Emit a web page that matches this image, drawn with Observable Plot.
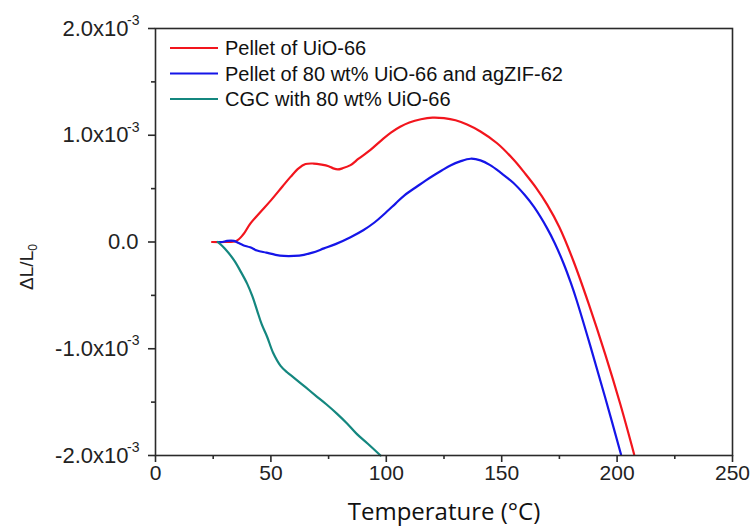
<!DOCTYPE html>
<html><head><meta charset="utf-8">
<script src="https://cdn.jsdelivr.net/npm/d3@7"></script>
<script src="https://cdn.jsdelivr.net/npm/@observablehq/plot@0.6"></script>
<style>body{margin:0;background:#fff}</style>
</head><body><div id="chart"></div>
<script>
// Series (values of ΔL/L0 in units of 10^-3)
const seriesNames = ["Pellet of UiO-66", "Pellet of 80 wt% UiO-66 and agZIF-62", "CGC with 80 wt% UiO-66"];
const seriesColors = ["#f2151d", "#1515e8", "#14877f"];

const redT = [24.5, 30, 35, 38, 41, 45, 50, 55, 58.5, 62, 65, 68.5, 72, 75, 77, 79, 81, 84.5, 88, 93, 98, 102, 106, 110, 115, 120, 125, 130, 135, 140.8, 148, 155.2, 160, 165, 169.7, 175, 181.2, 187.7, 194.9, 201.4, 207.4];
const redV = [0, 0, 0.01, 0.07, 0.17, 0.27, 0.39, 0.52, 0.61, 0.69, 0.73, 0.735, 0.725, 0.71, 0.69, 0.68, 0.69, 0.72, 0.78, 0.86, 0.955, 1.025, 1.08, 1.12, 1.15, 1.165, 1.16, 1.14, 1.10, 1.035, 0.925, 0.77, 0.645, 0.505, 0.35, 0.138, -0.185, -0.58, -1.055, -1.52, -1.99];

const blueT = [27, 29, 31, 34, 36, 38, 41, 44, 48, 52, 55.6, 60, 64.3, 68, 73, 78, 84.5, 90, 95, 99, 104, 108, 113, 117, 120.6, 124, 128, 132, 136.5, 140.8, 145, 149.5, 155, 160, 164, 169.7, 173, 176.9, 180, 182.5, 188.3, 194.8, 201.7];
const blueV = [0, 0, 0.01, 0.01, -0.01, -0.03, -0.05, -0.08, -0.10, -0.12, -0.13, -0.13, -0.12, -0.10, -0.06, -0.02, 0.045, 0.11, 0.185, 0.26, 0.36, 0.44, 0.515, 0.575, 0.625, 0.67, 0.72, 0.755, 0.78, 0.765, 0.72, 0.65, 0.555, 0.44, 0.328, 0.128, -0.011, -0.206, -0.386, -0.548, -0.966, -1.454, -1.99];

const tealT = [27, 30, 34, 37, 39.7, 42, 44, 46, 48.4, 51, 54.2, 57, 59.9, 65, 70, 74, 78.7, 83, 87.3, 92, 97.5];
const tealV = [0, -0.06, -0.17, -0.28, -0.39, -0.51, -0.64, -0.77, -0.89, -1.04, -1.16, -1.22, -1.27, -1.36, -1.45, -1.52, -1.61, -1.70, -1.80, -1.89, -2.0];

// Axis ticks and labels
const xMajor = [0, 50, 100, 150, 200, 250];
const xMinor = [25, 75, 125, 175, 225];
const yMajor = [-2, -1, 0, 1, 2];
const yMinor = [-1.5, -0.5, 0.5, 1.5];
const yMantissa = ["-2.0x10", "-1.0x10", "0.0", "1.0x10", "2.0x10"];
const yExponent = ["-3", "-3", "", "-3", "-3"];
const xTitle = "Temperature (°C)";
const yTitleMain = "ΔL/L";
const yTitleSub = "0";

const series = [[redT, redV], [blueT, blueV], [tealT, tealV]];
const data = series.flatMap(([ts, vs], i) => ts.map((t, j) => ({series: seriesNames[i], T: t, v: vs[j]})));
const yLabels = yMajor.map((y, i) => ({y, m: yMantissa[i], e: yExponent[i]}));

const sansFont = "'Liberation Sans', Arial, sans-serif";

const chart = Plot.plot({
  width: 753,
  height: 526,
  marginLeft: 155,
  marginRight: 21,
  marginTop: 28,
  marginBottom: 71,
  x: {domain: [0, 250], axis: null},
  y: {domain: [-2, 2], axis: null},
  color: {domain: seriesNames, range: seriesColors},
  style: {fontFamily: sansFont, background: "#fff", color: "#222"},
  marks: [
    Plot.line(data, {x: "T", y: "v", z: "series", stroke: "series", strokeWidth: 2.2, curve: "catmull-rom"}),
    Plot.frame({stroke: "#2a2a2a", strokeWidth: 1.6}),
    Plot.axisX({ticks: xMajor, tickSize: 7, tickPadding: 3, tickFormat: d => String(d), fontSize: 21, label: null, stroke: "#2a2a2a", strokeWidth: 1.6}),
    Plot.axisX({ticks: xMinor, tickSize: 4, tickFormat: () => "", label: null, stroke: "#2a2a2a", strokeWidth: 1.6}),
    Plot.axisY({ticks: yMajor, tickSize: 7, tickFormat: () => "", label: null, stroke: "#2a2a2a", strokeWidth: 1.6}),
    Plot.axisY({ticks: yMinor, tickSize: 4, tickFormat: () => "", label: null, stroke: "#2a2a2a", strokeWidth: 1.6}),
    Plot.text(yLabels.filter(d => d.e), {y: "y", text: "m", frameAnchor: "left", textAnchor: "end", dx: -27, fontSize: 22, fill: "#222"}),
    Plot.text(yLabels.filter(d => d.e), {y: "y", text: "e", frameAnchor: "left", textAnchor: "end", dx: -16, dy: -8, fontSize: 14, fill: "#222"}),
    Plot.text(yLabels.filter(d => !d.e), {y: "y", text: "m", frameAnchor: "left", textAnchor: "end", dx: -17, fontSize: 22, fill: "#222"}),
    Plot.text([xTitle], {frameAnchor: "bottom", dy: 64, fontSize: 24, letterSpacing: "0.7px", fontFamily: "'Open Sans', Lato, sans-serif", fill: "#111"})
  ]
});

const svg = d3.select(chart);

// Y-axis title with subscript
const yt = svg.append("text")
  .attr("transform", "translate(33,267) rotate(-90)")
  .attr("text-anchor", "middle")
  .attr("font-family", sansFont)
  .attr("font-size", 19)
  .attr("fill", "#222");
yt.append("tspan").text(yTitleMain);
yt.append("tspan").attr("font-size", 12).attr("dy", 4).text(yTitleSub);

// Legend inside the plot area (top-left)
const leg = svg.append("g").attr("font-family", sansFont).attr("font-size", 20).attr("text-anchor", "start");
seriesNames.forEach((name, i) => {
  const cy = 48 + i * 25.5;
  leg.append("line").attr("x1", 170).attr("x2", 218).attr("y1", cy).attr("y2", cy)
    .attr("stroke", seriesColors[i]).attr("stroke-width", 2.2);
  leg.append("text").attr("x", 225).attr("y", cy).attr("dy", "0.35em").attr("fill", "#111").text(name);
});

document.getElementById("chart").append(chart);
</script>
</body></html>
